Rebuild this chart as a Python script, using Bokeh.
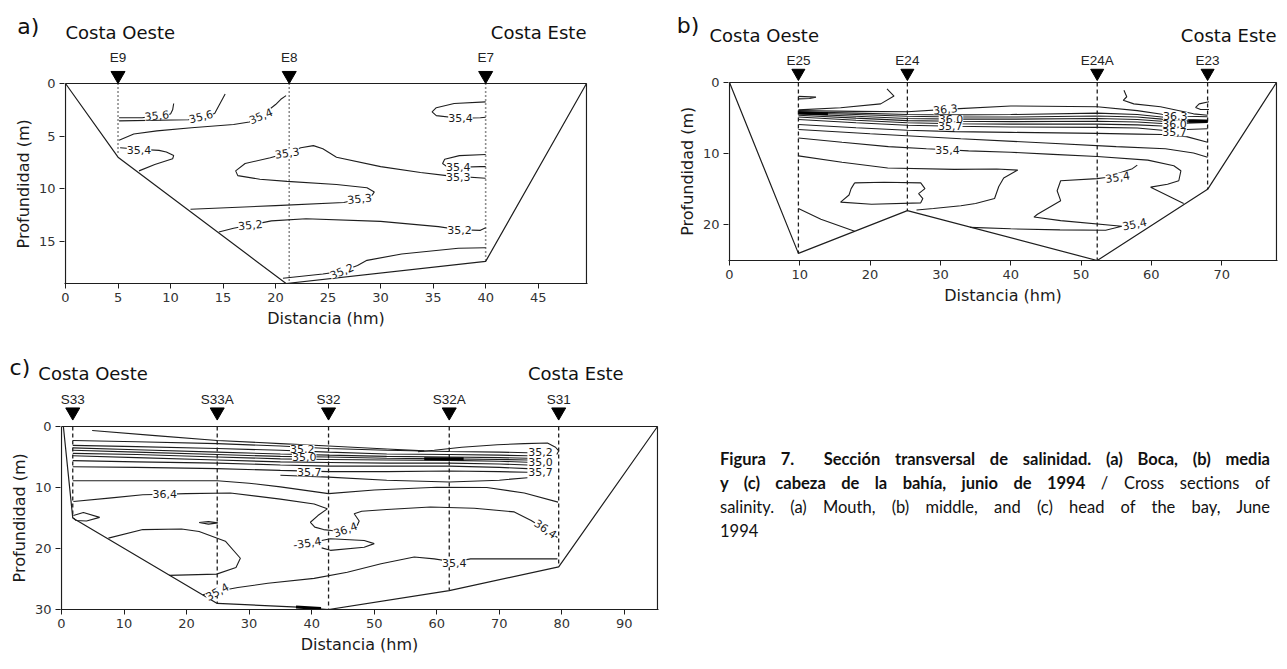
from bokeh.plotting import figure
from bokeh.models import Range1d, FixedTicker, LabelSet, ColumnDataSource, Div
from bokeh.layouts import row, column
from bokeh.core.properties import value
from bokeh.embed import file_html
from bokeh.resources import INLINE

# ======================= DATA =======================
# ---- Panel a (Boca) ----
A_STATIONS = ["E9", "E8", "E7"]
A_STATION_X = [5.0, 21.3, 40.0]
A_STATION_BOTTOM = [6.6, 19.0, 16.9]
A_BOTTOM_X = [0.0, 5.0, 21.0, 40.0, 49.6]
A_BOTTOM_Y = [0.0, 7.0, 19.0, 16.9, 0.0]
A_CONTOUR_XS = [
    [5.1, 7.3, 8.7, 10.0, 10.2, 10.3],
    [5.1, 11.7, 12.9, 14.2, 15.2],
    [5.1, 6.5, 8.7, 12.0, 16.0, 17.5, 18.6, 20.0, 20.5, 21.0],
    [5.2, 7.0, 8.9, 9.6, 10.3, 10.2, 8.5, 7.0],
    [40.0, 36.3, 33.8, 30.0, 25.8, 24.5, 23.6, 22.4, 21.1, 19.5, 17.1, 16.2, 16.4, 18.5,
     21.1, 25.8, 28.7, 29.4, 29.2, 28.0, 26.5, 20.0, 11.9],
    [40.0, 37.0, 35.3, 34.9, 35.3, 37.5, 39.5, 40.0],
    [40.0, 37.5, 36.1, 35.9, 36.3, 37.5, 39.5, 40.0],
    [14.6, 16.0, 17.6, 19.6, 22.9, 30.0, 35.5, 37.5, 39.5, 40.0],
    [40.0, 37.4, 32.0, 28.7, 27.8, 26.3, 24.5, 20.7],
]
A_CONTOUR_YS = [
    [3.25, 3.25, 3.05, 2.9, 2.5, 1.9],
    [3.55, 3.45, 3.2, 2.85, 1.0],
    [5.4, 4.8, 4.5, 4.2, 3.9, 3.65, 3.1, 2.0, 1.5, 1.15],
    [6.1, 6.25, 6.35, 6.5, 6.85, 7.15, 7.7, 8.3],
    [9.0, 8.75, 8.45, 7.9, 7.0, 6.2, 5.9, 6.1, 6.6, 7.05, 7.6, 8.3, 8.75, 9.1,
     9.3, 9.6, 9.9, 10.3, 10.6, 10.95, 11.3, 11.6, 11.95],
    [1.75, 1.9, 2.3, 2.7, 3.05, 3.3, 3.25, 3.2],
    [6.75, 6.85, 7.2, 7.6, 7.9, 7.95, 7.9, 7.9],
    [14.1, 13.75, 13.45, 13.05, 12.85, 13.1, 13.6, 13.9, 13.95, 13.7],
    [15.6, 15.65, 16.2, 16.8, 17.3, 17.85, 18.1, 18.5],
]
A_LABEL_TEXT = ["35,6", "35,6", "35,4", "35,4", "35,3", "35,3", "35,4", "35,4", "35,3",
                "35,2", "35,2", "35,2"]
A_LABEL_X = [8.7, 12.9, 18.6, 7.0, 21.1, 28.0, 37.6, 37.4, 37.4, 17.6, 37.5, 26.3]
A_LABEL_Y = [3.05, 3.15, 3.1, 6.3, 6.6, 10.95, 3.3, 7.9, 8.9, 13.45, 13.9, 17.85]
A_LABEL_ANGLE = [0.1, 0.25, 0.4, 0.0, 0.15, 0.1, 0.0, 0.0, 0.0, 0.1, 0.0, 0.4]

# ---- Panel b (media) ----
B_STATIONS = ["E25", "E24", "E24A", "E23"]
B_STATION_X = [9.8, 25.3, 52.3, 68.0]
B_STATION_BOTTOM = [24.0, 18.0, 25.0, 15.0]
B_BOTTOM_X = [0.0, 9.8, 25.3, 52.3, 68.0, 77.8]
B_BOTTOM_Y = [0.0, 24.0, 18.0, 25.0, 15.0, 0.0]
B_BAND_X = [9.8, 18.0, 25.3, 32.0, 40.0, 52.3, 58.0, 61.5, 65.0, 68.0]
B_BAND_Y = [
    [3.95, 4.05, 4.10, 3.70, 3.30, 3.40, 3.95, 4.45, 4.75, 4.80],
    [4.10, 4.30, 4.50, 4.55, 4.50, 4.30, 4.50, 4.85, 5.20, 5.30],
    [4.25, 4.50, 4.75, 4.85, 4.85, 4.70, 4.85, 5.15, 5.35, 5.38],
    [4.40, 4.75, 5.05, 5.15, 5.15, 5.05, 5.20, 5.45, 5.45, 5.45],
    [4.60, 5.00, 5.35, 5.45, 5.50, 5.45, 5.55, 5.75, 5.55, 5.50],
    [4.85, 5.30, 5.65, 5.80, 5.85, 5.85, 5.95, 6.10, 5.70, 5.60],
    [5.20, 5.65, 6.00, 6.15, 6.25, 6.30, 6.40, 6.70, 6.60, 6.50],
    [5.90, 6.35, 6.70, 6.90, 7.00, 7.15, 7.25, 7.30, 7.60, 8.40],
]
B_CONTOUR_XS = [
    [9.8, 12.3, 11.4, 9.8],
    [9.8, 15.8, 21.5, 23.4, 22.4],
    [9.8, 20.0, 32.9, 45.0, 55.0, 62.0, 66.0, 68.0],
    [9.8, 16.0, 22.6, 28.0, 31.0, 34.0, 40.0, 46.0, 52.3, 59.5, 63.2, 64.2, 63.9, 62.3, 59.9, 64.6],
    [9.8, 16.0, 22.5, 32.0, 38.0, 41.0, 39.0, 38.3, 37.7, 35.0, 32.9, 29.0, 26.6],
    [17.8, 22.0, 27.2, 27.8, 26.9, 27.5, 27.2, 20.2, 15.8, 17.0, 17.3, 17.8],
    [9.8, 13.0, 17.8],
    [34.2, 40.0, 47.0, 53.5, 55.8, 47.1, 43.3, 43.8, 47.1, 46.6, 47.1, 52.3, 53.5, 57.3, 58.0],
    [56.1, 56.5, 56.0, 57.5, 61.3, 66.0, 68.0],
    [68.2, 66.8, 66.3, 67.0, 68.2],
]
B_CONTOUR_YS = [
    [1.95, 2.05, 2.25, 2.30],
    [3.85, 3.55, 3.0, 1.9, 0.9],
    [6.6, 7.2, 7.9, 8.5, 9.0, 9.3, 9.9, 10.5],
    [7.8, 8.4, 9.0, 9.3, 9.45, 9.6, 9.8, 10.1, 10.4, 10.9, 11.7, 12.4, 13.8, 14.3, 14.7, 17.0],
    [10.3, 11.2, 12.0, 12.2, 12.15, 12.3, 13.4, 14.6, 16.3, 17.0, 17.3, 17.7, 17.9],
    [14.1, 14.0, 14.1, 14.9, 15.6, 16.3, 16.9, 17.1, 16.8, 15.8, 14.9, 14.1],
    [17.7, 19.2, 20.9],
    [20.35, 20.55, 20.7, 20.75, 20.2, 19.4, 18.9, 18.5, 16.6, 15.2, 13.8, 13.5, 13.35, 12.1, 11.6],
    [1.1, 2.0, 2.5, 3.0, 3.4, 4.4, 4.6],
    [2.7, 3.0, 3.5, 3.8, 3.8],
]
B_THICK_XS = [[9.8, 14.0], [65.3, 68.0]]
B_THICK_YS = [[4.25, 4.4], [5.45, 5.45]]
B_LABEL_TEXT = ["36,3", "36,0", "35,7", "35,4", "36,3", "36,0", "35,7", "35,4", "35,4"]
B_LABEL_X = [30.7, 31.5, 31.4, 31.0, 63.4, 63.3, 63.3, 55.2, 57.6]
B_LABEL_Y = [3.75, 5.15, 6.15, 9.45, 4.7, 5.85, 7.0, 13.3, 19.9]
B_LABEL_ANGLE = [0.1, 0.0, 0.0, 0.0, 0.0, 0.0, 0.0, 0.15, 0.2]

# ---- Panel c (cabeza) ----
C_STATIONS = ["S33", "S33A", "S32", "S32A", "S31"]
C_STATION_X = [1.8, 24.9, 42.7, 62.0, 79.5]
C_STATION_BOTTOM = [15.0, 29.0, 30.0, 26.9, 23.0]
C_BOTTOM_X = [0.3, 1.8, 24.9, 37.8, 42.7, 62.0, 79.5, 95.3]
C_BOTTOM_Y = [0.0, 15.0, 29.0, 29.6, 30.0, 26.9, 23.0, 0.0]
C_BAND_X = [1.8, 12.0, 24.9, 35.0, 42.7, 52.0, 62.0, 70.0, 74.5]
C_BAND_Y = [
    [2.3, 2.5, 2.8, 3.2, 3.6, 3.9, 4.1, 4.2, 4.3],
    [3.1, 3.3, 3.6, 3.9, 4.2, 4.5, 4.6, 4.7, 4.8],
    [3.5, 3.8, 4.2, 4.5, 4.7, 4.9, 5.0, 5.1, 5.2],
    [3.9, 4.2, 4.6, 4.9, 5.0, 5.2, 5.3, 5.4, 5.5],
    [4.4, 4.6, 5.0, 5.3, 5.4, 5.5, 5.55, 5.7, 5.85],
    [4.8, 5.1, 5.5, 5.8, 5.9, 6.0, 6.0, 6.15, 6.3],
    [5.6, 5.8, 6.0, 6.3, 6.5, 6.5, 6.5, 6.7, 6.9],
    [6.6, 6.7, 6.9, 7.2, 7.4, 7.4, 7.3, 7.4, 7.5],
]
C_CONTOUR_XS = [
    [4.9, 15.0, 24.9, 35.0, 42.7, 52.0, 58.0],
    [57.0, 59.6, 64.0, 69.7, 74.0, 77.7, 79.0, 79.5, 79.2],
    [35.0, 42.7, 52.0, 62.0, 70.0, 74.5],
    [1.8, 12.0, 24.9, 30.0, 35.0, 42.7, 50.0, 60.0, 68.0, 74.0, 79.4],
    [1.9, 8.0, 13.0, 16.5, 19.9, 27.0, 35.0, 40.4, 42.5, 41.0, 39.8, 40.5, 41.9, 43.5, 45.5,
     47.3, 47.6, 46.8, 48.0, 52.0, 59.0, 66.0, 72.4, 75.1, 77.4, 79.3],
    [1.9, 3.5, 6.1, 4.0, 2.3, 1.9],
    [22.0, 23.5, 25.0, 23.5, 22.0],
    [7.5, 13.0, 19.2, 22.0, 26.2, 28.6, 27.9, 24.8, 17.2],
    [41.6, 43.0, 48.4, 50.0, 48.4, 43.0, 41.6],
    [79.3, 72.0, 65.4, 62.8, 59.6, 56.4, 51.1, 45.7, 40.4, 33.0, 28.2, 25.0, 22.6],
]
C_CONTOUR_YS = [
    [0.65, 1.5, 2.3, 2.8, 3.2, 3.7, 4.0],
    [4.15, 3.9, 3.4, 3.0, 2.8, 2.7, 3.4, 4.0, 4.6],
    [8.0, 8.3, 8.8, 9.1, 8.8, 8.4],
    [8.9, 8.9, 8.9, 9.3, 9.9, 11.0, 10.4, 9.95, 10.0, 10.9, 12.4],
    [12.3, 11.7, 11.2, 11.1, 11.0, 10.9, 11.9, 12.7, 13.5, 14.6, 15.7, 16.5, 16.9, 17.1, 16.8,
     16.2, 15.5, 14.3, 13.9, 13.6, 13.2, 13.4, 14.0, 15.4, 16.9, 18.2],
    [14.6, 14.1, 14.9, 15.5, 15.4, 15.0],
    [15.75, 15.6, 15.8, 16.0, 15.75],
    [18.3, 16.9, 16.8, 17.2, 18.8, 21.6, 23.1, 24.2, 24.4],
    [18.7, 18.4, 18.7, 19.2, 19.8, 20.3, 19.9],
    [21.7, 21.7, 21.7, 22.2, 21.7, 21.4, 22.5, 23.9, 24.9, 25.7, 26.4, 27.0, 27.6],
]
C_THICK_XS = [[58.0, 64.3], [37.5, 41.5]]
C_THICK_YS = [[5.3, 5.3], [29.6, 29.85]]
C_LABEL_TEXT = ["35,2", "35,0", "35,7", "35,2", "35,0", "35,7", "36,4", "36,4", "36,4",
                "-35,4", "35,4", "35,4"]
C_LABEL_X = [38.5, 38.8, 39.6, 76.6, 76.6, 76.6, 16.5, 45.4, 77.4, 39.3, 62.8, 24.9]
C_LABEL_Y = [3.65, 5.0, 7.5, 4.2, 5.85, 7.5, 11.05, 16.9, 16.8, 19.1, 22.4, 27.1]
C_LABEL_ANGLE = [0.0, 0.0, 0.0, 0.0, 0.0, 0.0, 0.0, 0.35, -0.6, 0.15, 0.0, 0.5]

X_TICKS_A = [0, 5, 10, 15, 20, 25, 30, 35, 40, 45]
Y_TICKS_A = [0, 5, 10, 15]
X_TICKS_B = [0, 10, 20, 30, 40, 50, 60, 70]
Y_TICKS_B = [0, 10, 20]
X_TICKS_C = [0, 10, 20, 30, 40, 50, 60, 70, 80, 90]
Y_TICKS_C = [0, 10, 20, 30]

# ======================= STYLE / BUILD =======================
INK = "#1e1e1e"
AXFONT = "DejaVu Sans"
TEXT_LIFT = 5  # px: raise header / station texts
NBSP = "\u00a0"


class Panel:
    """A section plot: the box of the section plus a strip above it (stations)."""

    def __init__(self, xmax, ymax, box_w, box_h, strip, bl, br, bb, xticks, yticks, ypad):
        self.xmax, self.ymax = xmax, ymax
        self.kx = box_w / xmax
        self.ky = box_h / ymax
        self.lift = TEXT_LIFT / self.ky
        self.strip, self.bl, self.br = strip, bl, br
        self.fw = box_w + 2
        self.width = bl + self.fw + br
        p = figure(frame_width=self.fw, frame_height=box_h + strip,
                   x_range=Range1d(-1 / self.kx, xmax + 1 / self.kx),
                   y_range=Range1d(ymax, -strip / self.ky),
                   output_backend="svg", toolbar_location=None, frame_align=False,
                   min_border_left=bl, min_border_right=br,
                   min_border_top=0, min_border_bottom=bb)
        p.title.visible = False
        p.grid.visible = False
        p.outline_line_color = None
        for ax in (p.xaxis[0], p.yaxis[0]):
            ax.axis_line_color = INK
            ax.axis_line_width = 1.2
            ax.major_tick_line_color = INK
            ax.major_tick_out = 5
            ax.major_tick_in = 0
            ax.minor_tick_line_color = None
            ax.major_label_text_font = AXFONT
            ax.major_label_text_font_size = "13px"
            ax.major_label_text_color = "#333333"
            ax.major_label_standoff = 4
            ax.axis_label_text_font = AXFONT
            ax.axis_label_text_font_size = "16px"
            ax.axis_label_text_font_style = "normal"
            ax.axis_label_text_color = "#1a1a1a"
        p.yaxis.axis_line_color = None
        p.xaxis.ticker = FixedTicker(ticks=xticks)
        p.yaxis.ticker = FixedTicker(ticks=yticks)
        p.xaxis.axis_label = "Distancia (hm)"
        # trailing no-break spaces centre the visible label on the section box
        p.yaxis.axis_label = "Profundidad (m)" + NBSP * ypad
        p.xaxis.axis_label_standoff = 4
        p.yaxis.axis_label_standoff = 3
        # box of the section (top, right and left edges; bottom is the x axis)
        p.multi_line([[0, xmax], [xmax, xmax], [0, 0]], [[0, 0], [0, ymax], [0, ymax]],
                     line_color=INK, line_width=1.2)
        self.p = p

    def header(self, height):
        h = figure(width=self.width, height=height,
                   x_range=Range1d(-(self.bl + 1) / self.kx, (self.width - self.bl - 1) / self.kx),
                   y_range=Range1d(-self.strip / self.ky, -(self.strip + height) / self.ky),
                   x_axis_type=None, y_axis_type=None, frame_align=False,
                   output_backend="svg", toolbar_location=None,
                   min_border_left=0, min_border_right=0,
                   min_border_top=0, min_border_bottom=0)
        h.title.visible = False
        h.grid.visible = False
        h.outline_line_color = None
        self.h = h
        return h

    def header_text(self, x, y, text, size, align="left"):
        self.h.text(x=[x], y=[y - self.lift], text=[text], text_font=value(AXFONT),
                    text_font_size=size, text_align=align, text_baseline="alphabetic",
                    text_color="#111111")

    def stations(self, names, sx, st_y, tri_y, tri_size):
        self.p.text(x=sx, y=[st_y - self.lift] * len(sx), text=names,
                    text_font=value("Liberation Sans"), text_font_size="13.5px",
                    text_align="center", text_baseline="alphabetic", text_color="#222222")
        self.p.scatter(x=sx, y=[tri_y] * len(sx), marker="inverted_triangle", size=tri_size,
                       fill_color="#000000", line_color="#000000")


def draw_section(p, bx, by, sx, sbot, dash, dash_w, cxs, cys, thick_xs, thick_ys,
                 lx, ly, lt, la):
    p.line(bx, by, line_color=INK, line_width=1.2)
    p.segment(x0=sx, y0=[0] * len(sx), x1=sx, y1=sbot,
              line_color=INK, line_width=dash_w, line_dash=dash)
    p.multi_line(cxs, cys, line_color=INK, line_width=1.1)
    if thick_xs:
        p.multi_line(thick_xs, thick_ys, line_color="#000000", line_width=3)
    src = ColumnDataSource(dict(x=lx, y=ly, text=lt, angle=la))
    p.add_layout(LabelSet(source=src, x="x", y="y", text="text", angle="angle",
                          text_align="center", text_baseline="middle",
                          text_font=value(AXFONT), text_font_size="11px",
                          text_color="#1a1a1a",
                          background_fill_color="white", background_fill_alpha=1.0))


# ---- panel a ----
PA = Panel(49.6, 19.0, 521, 200, 35, 64, 8, 47, X_TICKS_A, Y_TICKS_A, 7)
draw_section(PA.p, A_BOTTOM_X, A_BOTTOM_Y, A_STATION_X, A_STATION_BOTTOM, "1 3", 1.6,
             A_CONTOUR_XS, A_CONTOUR_YS, None, None,
             A_LABEL_X, A_LABEL_Y, A_LABEL_TEXT, A_LABEL_ANGLE)
PA.stations(A_STATIONS, A_STATION_X, -1.99, -0.76, 14)
ha = PA.header(48)
PA.header_text(-4.6, -4.94, "a)", "22px")
PA.header_text(0.0, -4.37, "Costa Oeste", "18px")
PA.header_text(49.6, -4.37, "Costa Este", "18px", align="right")

# ---- panel c ----
PC = Panel(95.3, 30.0, 596, 183, 36, 60, 14, 50, X_TICKS_C, Y_TICKS_C, 7)
draw_section(PC.p, C_BOTTOM_X, C_BOTTOM_Y, C_STATION_X, C_STATION_BOTTOM, "4 3", 1.3,
             [C_BAND_X] * len(C_BAND_Y) + C_CONTOUR_XS, C_BAND_Y + C_CONTOUR_YS,
             C_THICK_XS, C_THICK_YS,
             C_LABEL_X, C_LABEL_Y, C_LABEL_TEXT, C_LABEL_ANGLE)
PC.stations(C_STATIONS, C_STATION_X, -3.61, -2.38, 14)
hc = PC.header(60)
PC.header_text(-8.3, -8.85, "c)", "22px")
PC.header_text(-3.7, -7.87, "Costa Oeste", "18px")
PC.header_text(74.6, -7.87, "Costa Este", "18px")

# ---- panel b ----
PB = Panel(77.8, 25.0, 547, 178, 31, 56, 1, 50, X_TICKS_B, Y_TICKS_B, 6)
draw_section(PB.p, B_BOTTOM_X, B_BOTTOM_Y, B_STATION_X, B_STATION_BOTTOM, "4 3", 1.3,
             [B_BAND_X] * len(B_BAND_Y) + B_CONTOUR_XS, B_BAND_Y + B_CONTOUR_YS,
             B_THICK_XS, B_THICK_YS,
             B_LABEL_X, B_LABEL_Y, B_LABEL_TEXT, B_LABEL_ANGLE)
PB.stations(B_STATIONS, B_STATION_X, -2.39, -1.33, 13)
hb = PB.header(51)
PB.header_text(-7.5, -7.3, "b)", "22px")
PB.header_text(-2.85, -5.9, "Costa Oeste", "18px")
PB.header_text(77.8, -5.9, "Costa Este", "18px", align="right")

# ---- caption ----
JL = "text-align:justify; text-align-last:justify; white-space:nowrap;"
caption_html = (
    "<div style=\"margin:132px 0 0 43px; width:550px; font-family:Lato; "
    "font-size:16.5px; line-height:24px; color:#111;\">"
    f"<div style=\"{JL}\"><b>Figura 7.&nbsp; Secci\u00f3n transversal de salinidad. (a) Boca, (b) media</b></div>"
    f"<div style=\"{JL}\"><b>y (c) cabeza de la bah\u00eda, junio de 1994</b> / Cross sections of</div>"
    f"<div style=\"{JL}\">salinity. (a) Mouth, (b) middle, and (c) head of the bay, June</div>"
    "<div>1994</div></div>"
)
caption = Div(text=caption_html, width=600, height=330)

layout = row(column(ha, PA.p, hc, PC.p), column(hb, PB.p, caption))
open("out.html", "w").write(file_html(layout, INLINE))
